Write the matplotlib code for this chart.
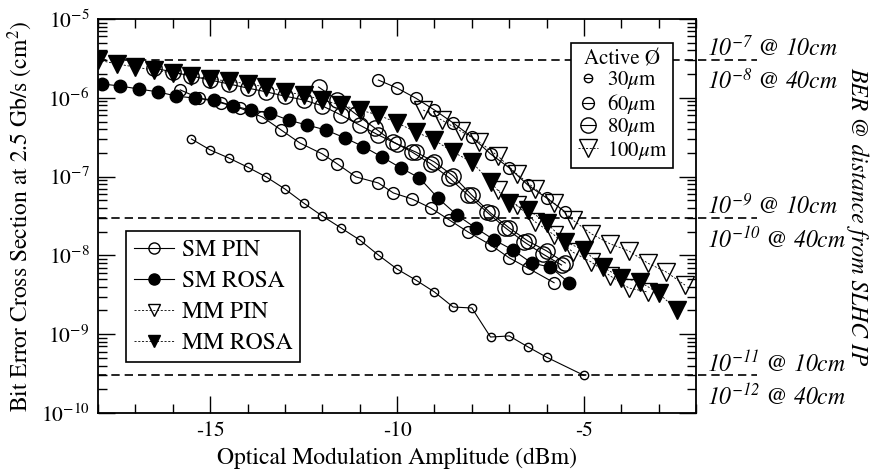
import matplotlib
matplotlib.use('Agg')
import matplotlib.pyplot as plt
from matplotlib.lines import Line2D
from matplotlib.ticker import MultipleLocator, LogLocator, NullFormatter
from matplotlib.transforms import blended_transform_factory
import numpy as np

plt.rcParams['font.family'] = ['STIXGeneral', 'DejaVu Serif']
plt.rcParams['mathtext.fontset'] = 'custom'
plt.rcParams['mathtext.rm'] = 'STIXGeneral'
plt.rcParams['mathtext.it'] = 'STIXGeneral:italic'
plt.rcParams['mathtext.bf'] = 'STIXGeneral:bold'
plt.rcParams['axes.unicode_minus'] = False

# ---------------- data ----------------
# SM PIN, 30 um active diameter
sm_pin_30_x = [-15.5, -15.0, -14.5, -14.0, -13.5, -13.0, -12.5, -12.0, -11.5, -11.0, -10.5,
               -10.0, -9.5, -9.0, -8.5, -8.0, -7.5, -7.0, -6.5, -6.0, -5.0]
sm_pin_30_y = [3.0e-7, 2.18e-7, 1.72e-7, 1.32e-7, 9.9e-8, 6.96e-8, 4.62e-8, 3.16e-8, 2.23e-8,
               1.57e-8, 1.01e-8, 6.7e-9, 4.87e-9, 3.43e-9, 2.21e-9, 2.15e-9, 9.2e-10, 9.5e-10,
               6.9e-10, 5.1e-10, 3.0e-10]

# SM PIN, 60 um (two devices)
sm_pin_60a_x = [-10.5, -10.0, -9.5, -9.0, -8.5, -8.0, -7.5, -7.0, -6.5, -6.0, -5.5]
sm_pin_60a_y = [1.68e-6, 1.33e-6, 9.9e-7, 7.0e-7, 4.8e-7, 3.18e-7, 1.94e-7, 1.29e-7, 7.8e-8,
                5.35e-8, 3.56e-8]
sm_pin_60b_x = [-15.8, -15.3, -14.7, -14.2, -13.6, -13.1, -12.6, -12.0, -11.6, -11.1, -10.5,
                -10.1, -9.6, -9.1, -8.6, -8.1, -7.5, -7.0, -6.5, -5.8]
sm_pin_60b_y = [1.26e-6, 9.9e-7, 8.6e-7, 7.4e-7, 5.7e-7, 3.9e-7, 2.67e-7, 1.94e-7, 1.45e-7,
                9.9e-8, 8.3e-8, 6.2e-8, 5.2e-8, 4.0e-8, 2.81e-8, 1.98e-8, 1.36e-8, 9.3e-9,
                6.9e-9, 4.5e-9]

# SM PIN, 80 um (two devices)
sm_pin_80a_x = [-16.5, -16.0, -15.5, -15.0, -14.5, -14.0, -13.5, -13.0, -12.5, -12.0, -11.5,
                -11.0, -10.5, -10.0, -9.5, -9.0, -8.5, -8.0, -7.5, -7.0, -6.5, -6.0, -5.5]
sm_pin_80a_y = [2.39e-6, 2.12e-6, 1.89e-6, 1.68e-6, 1.50e-6, 1.33e-6, 1.19e-6, 1.05e-6, 9.4e-7,
                7.9e-7, 6.05e-7, 4.5e-7, 3.37e-7, 2.59e-7, 2.05e-7, 1.53e-7, 1.02e-7, 5.8e-8,
                3.45e-8, 2.23e-8, 1.52e-8, 1.14e-8, 8.0e-9]
sm_pin_80b_x = [-12.1, -11.6, -11.1, -10.6, -10.1, -9.6, -9.1, -8.6, -8.1, -7.6, -7.1, -6.6,
                -6.1, -5.6]
sm_pin_80b_y = [1.37e-6, 9.4e-7, 6.2e-7, 4.14e-7, 2.75e-7, 2.05e-7, 1.45e-7, 9.6e-8, 5.8e-8,
                3.56e-8, 2.23e-8, 1.48e-8, 1.04e-8, 7.55e-9]

# SM ROSA
sm_rosa_x = [-17.9, -17.4, -16.9, -16.4, -15.9, -15.4, -14.9, -14.4, -13.9, -13.4, -12.9,
             -12.4, -11.9, -11.4, -10.9, -10.4, -9.9, -9.4, -8.9, -8.4, -7.9, -7.4, -6.9,
             -6.4, -5.9, -5.4]
sm_rosa_y = [1.5e-6, 1.41e-6, 1.29e-6, 1.19e-6, 1.05e-6, 9.9e-7, 9.4e-7, 7.9e-7, 7.0e-7,
             6.4e-7, 5.2e-7, 4.5e-7, 3.9e-7, 3.1e-7, 2.4e-7, 1.77e-7, 1.29e-7, 9.6e-8, 5.3e-8,
             3.26e-8, 2.23e-8, 1.57e-8, 1.17e-8, 8.0e-9, 7.1e-9, 4.5e-9]

# MM PIN, 100 um (two devices)
mm_pin_a_x = [-9.3, -8.8, -8.3, -7.8, -7.3, -6.8, -6.3, -5.8, -5.3, -4.8, -4.3, -3.8, -3.3,
              -2.8, -2.3]
mm_pin_a_y = [7.0e-7, 5.2e-7, 3.79e-7, 2.75e-7, 1.82e-7, 1.08e-7, 6.96e-8, 4.62e-8, 2.81e-8,
              1.87e-8, 1.40e-8, 1.14e-8, 8.0e-9, 6.15e-9, 4.2e-9]
mm_pin_b_x = [-7.3, -6.8, -6.3, -5.8, -5.3, -4.8, -4.3, -3.8, -3.3]
mm_pin_b_y = [6.76e-8, 4.36e-8, 2.65e-8, 1.82e-8, 1.10e-8, 8.2e-9, 5.5e-9, 3.86e-9, 3.43e-9]

# MM ROSA, 100 um
mm_rosa_x = [-18.0, -17.5, -17.0, -16.5, -16.0, -15.5, -15.0, -14.5, -14.0, -13.5, -13.0,
             -12.5, -12.0, -11.5, -11.0, -10.5, -10.0, -9.5, -9.0, -8.5, -8.0, -7.5, -7.0,
             -6.5, -6.0, -5.5, -5.0, -4.5, -4.0, -3.5, -3.0, -2.5]
mm_rosa_y = [3.0e-6, 2.7e-6, 2.45e-6, 2.25e-6, 2.05e-6, 1.9e-6, 1.73e-6, 1.63e-6, 1.5e-6,
             1.37e-6, 1.19e-6, 1.09e-6, 9.4e-7, 8.1e-7, 7.0e-7, 6.05e-7, 4.8e-7, 3.7e-7,
             2.9e-7, 2.05e-7, 1.53e-7, 8.5e-8, 4.6e-8, 3.8e-8, 2.6e-8, 1.48e-8, 1.17e-8,
             7.1e-9, 5.2e-9, 4.6e-9, 3.3e-9, 2.0e-9]

# BER reference levels (cross section) and their labels
ber_levels = [3e-6, 3e-8, 3e-10]
ber_labels_10cm = [r'$\mathdefault{10^{-7}}$ @ 10cm', r'$\mathdefault{10^{-9}}$ @ 10cm',
                   r'$\mathdefault{10^{-11}}$ @ 10cm']
ber_labels_40cm = [r'$\mathdefault{10^{-8}}$ @ 40cm', r'$\mathdefault{10^{-10}}$ @ 40cm',
                   r'$\mathdefault{10^{-12}}$ @ 40cm']

legend_labels = ['SM PIN', 'SM ROSA', 'MM PIN', 'MM ROSA']
size_labels = [r'30$\mu$m', r'60$\mu$m', r'80$\mu$m', r'100$\mu$m']

# ---------------- figure ----------------
fig = plt.figure(figsize=(8.81, 4.76), dpi=100)
ax = fig.add_axes([0.1112, 0.1324, 0.679, 0.8277])
ax.set_yscale('log')
ax.set_xlim(-18, -2)
ax.set_ylim(1e-10, 1e-5)

MS = {30: 6, 60: 8.5, 80: 11, 100: 13}
mm_dash = (0, (2.5, 2.0))

def sm_line(x, y, ms, filled=False, z=2):
    ax.plot(x, y, color='k', lw=0.8, marker='o', ms=ms,
            mfc='k' if filled else 'none', mec='k', mew=1.0, zorder=z)

def mm_line(x, y, filled=False, z=3):
    ax.plot(x, y, color='k', lw=0.6, ls=mm_dash, marker='v', ms=MS[100],
            mfc='k' if filled else 'none', mec='k', mew=1.0, zorder=z)

sm_line(sm_pin_80a_x, sm_pin_80a_y, MS[80])
sm_line(sm_pin_80b_x, sm_pin_80b_y, MS[80])
sm_line(sm_pin_60b_x, sm_pin_60b_y, MS[60])
sm_line(sm_pin_60a_x, sm_pin_60a_y, MS[60])
sm_line(sm_pin_30_x, sm_pin_30_y, MS[30])
sm_line(sm_rosa_x, sm_rosa_y, 9, filled=True, z=2.5)
mm_line(mm_pin_a_x, mm_pin_a_y)
mm_line(mm_pin_b_x, mm_pin_b_y)
mm_line(mm_rosa_x, mm_rosa_y, filled=True, z=3.5)

# reference BER lines extending beyond right axis
trans = blended_transform_factory(ax.transAxes, ax.transData)
for lvl, l10, l40 in zip(ber_levels, ber_labels_10cm, ber_labels_40cm):
    ax.plot([0, 1.102], [lvl, lvl], transform=trans, color='k', lw=1.2,
            dashes=(5, 3), clip_on=False, zorder=1.5)
    ax.annotate(l10, xy=(1.018, lvl), xycoords=trans, xytext=(0, 3),
                textcoords='offset points', ha='left', va='baseline',
                fontsize=17, style='italic', annotation_clip=False)
    ax.annotate(l40, xy=(1.018, lvl), xycoords=trans, xytext=(0, -21),
                textcoords='offset points', ha='left', va='baseline',
                fontsize=17, style='italic', annotation_clip=False)

# ticks
ax.xaxis.set_major_locator(MultipleLocator(5))
ax.xaxis.set_minor_locator(MultipleLocator(1))
ax.yaxis.set_minor_locator(LogLocator(base=10, subs=np.arange(2, 10), numticks=30))
ax.yaxis.set_minor_formatter(NullFormatter())
ax.tick_params(which='both', direction='in', top=True, right=True, labelsize=15.5)
ax.tick_params(which='major', length=12, width=1.0, pad=6)
ax.tick_params(which='minor', length=6.5, width=1.0)
for s in ax.spines.values():
    s.set_linewidth(1.3)

ax.set_xlabel('Optical Modulation Amplitude (dBm)', fontsize=17, labelpad=5)
ax.set_ylabel('Bit Error Cross Section at 2.5 Gb/s (cm$^2$)', fontsize=17)
ax.yaxis.set_label_coords(-0.105, 0.5)
ax.text(1.27, 0.5, 'BER @ distance from SLHC IP', transform=ax.transAxes,
        rotation=270, ha='center', va='center', fontsize=17, style='italic')

# legend 1: device types
h1 = [Line2D([], [], color='k', lw=0.8, marker='o', ms=8, mfc='none', mew=1.0),
      Line2D([], [], color='k', lw=0.8, marker='o', ms=8, mfc='k', mew=1.0),
      Line2D([], [], color='k', lw=0.6, ls=mm_dash, marker='v', ms=8, mfc='none', mew=1.0),
      Line2D([], [], color='k', lw=0.6, ls=mm_dash, marker='v', ms=8, mfc='k', mew=1.0)]
leg1 = ax.legend(h1, legend_labels, loc='lower left', bbox_to_anchor=(0.047, 0.129),
                 frameon=True, fancybox=False, edgecolor='k', framealpha=1,
                 fontsize=17, handlelength=1.7, borderpad=0.35, labelspacing=0.4,
                 handletextpad=0.3, borderaxespad=0)
leg1.get_frame().set_linewidth(1.2)
leg1.set_zorder(10)
ax.add_artist(leg1)

# legend 2: active diameter
h2 = []
for d in (30, 60, 80):
    h2.append((Line2D([], [], ls='none', marker='o', ms=MS[d], mfc='none', mec='k', mew=1.0),
               Line2D([], [], ls='none', marker='_', ms=MS[d], mec='k', mew=0.8)))
h2.append(Line2D([], [], color='k', lw=0.6, ls=mm_dash, marker='v', ms=MS[100],
                 mfc='none', mew=1.0))
leg2 = ax.legend(h2, size_labels, loc='upper right', bbox_to_anchor=(0.962, 0.939),
                 title='Active Ø', title_fontsize=15, fontsize=15,
                 frameon=True, fancybox=False, edgecolor='k', framealpha=1,
                 handlelength=1.0, borderpad=0.3, labelspacing=0.02,
                 handletextpad=0.4, borderaxespad=0)
leg2.get_frame().set_linewidth(1.2)
leg2.set_zorder(10)

fig.savefig('out.png', dpi=100)
